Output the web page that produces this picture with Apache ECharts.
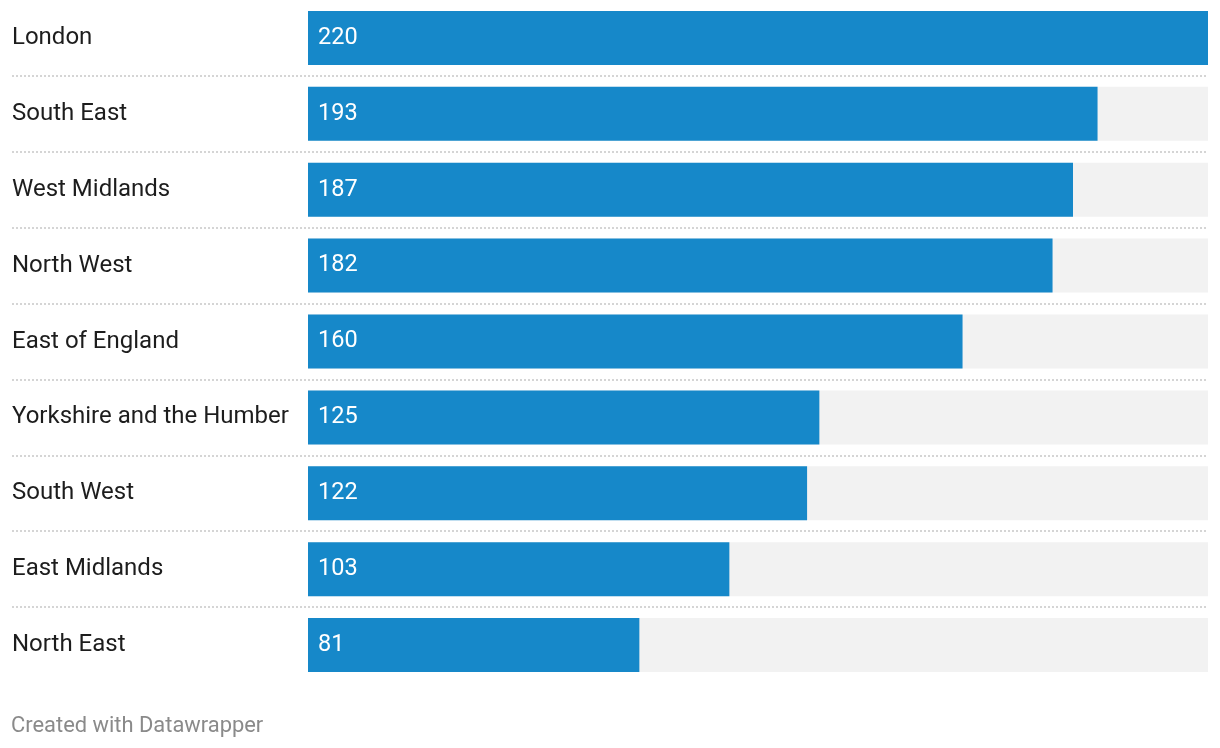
<!DOCTYPE html>
<html>
<head>
<meta charset="utf-8">
<script src="https://cdn.jsdelivr.net/npm/echarts@6/dist/echarts.min.js"></script>
<style>
html,body{margin:0;padding:0;background:#fff;}
#c{width:1220px;height:748px;}
</style>
</head>
<body>
<div id="c"></div>
<script>
const categories = ["London","South East","West Midlands","North West","East of England","Yorkshire and the Humber","South West","East Midlands","North East"];
const values = [220,193,187,182,160,125,122,103,81];
const maxValue = 220;
const footer = "Created with Datawrapper";

const chart = echarts.init(document.getElementById('c'));
chart.setOption({
  animation: false,
  backgroundColor: '#ffffff',
  textStyle: {fontFamily: 'Roboto'},
  graphic: [{
    type: 'text', left: 11, top: 716,
    style: {text: footer, fill: '#8a8a8a', font: '21.9px Roboto'}
  }],
  grid: [
    {left: 308, right: 12, top: -1, height: 684, containLabel: false},
    {left: 12, right: 12, top: -1, height: 684, containLabel: false}
  ],
  xAxis: [
    {type: 'value', gridIndex: 0, min: 0, max: maxValue, show: false},
    {type: 'value', gridIndex: 1, min: 0, max: 1, show: false}
  ],
  yAxis: [
    {
      type: 'category', gridIndex: 0, data: categories, inverse: true,
      axisLine: {show: false}, axisTick: {show: false}, splitLine: {show: false},
      axisLabel: {align: 'left', margin: 296, color: '#1d1d1d', fontSize: 24, fontFamily: 'Roboto', padding: [2, 0, 0, 0]}
    },
    {
      type: 'value', gridIndex: 1, min: 0, max: 9, interval: 1, inverse: true,
      axisLine: {show: false}, axisTick: {show: false}, axisLabel: {show: false},
      splitLine: {show: true, showMinLine: false, showMaxLine: false,
        lineStyle: {type: [2, 2], color: '#c8c8c8', width: 1.5}}
    }
  ],
  series: [
    {
      type: 'bar', xAxisIndex: 0, yAxisIndex: 0,
      data: categories.map(() => maxValue),
      barWidth: 54, barGap: '-100%', silent: true,
      itemStyle: {color: '#f2f2f2'}
    },
    {
      type: 'bar', xAxisIndex: 0, yAxisIndex: 0,
      data: values, barWidth: 54, barGap: '-100%',
      itemStyle: {color: '#1688c9'},
      label: {show: true, position: 'insideLeft', distance: 10, color: '#ffffff', fontSize: 23.5, fontFamily: 'Roboto'}
    }
  ]
});
</script>
</body>
</html>
